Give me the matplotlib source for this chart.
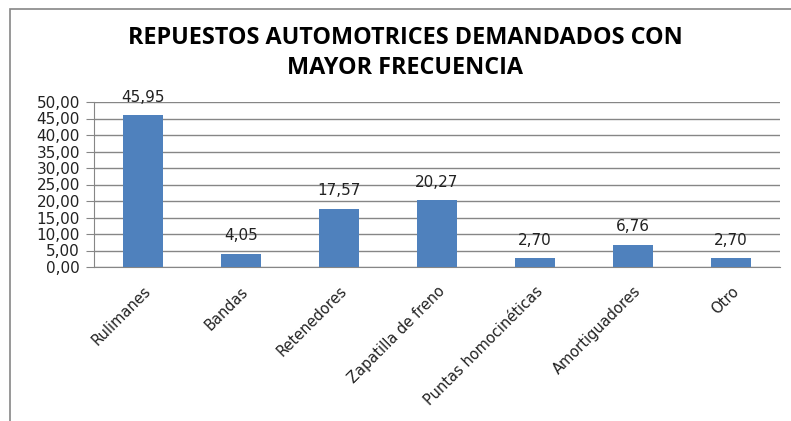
import matplotlib.pyplot as plt
from matplotlib.patches import Rectangle

categorias = ['Rulimanes', 'Bandas', 'Retenedores', 'Zapatilla de freno',
              'Puntas homocinéticas', 'Amortiguadores', 'Otro']
valores = [45.95, 4.05, 17.57, 20.27, 2.70, 6.76, 2.70]
yticks = [0, 5, 10, 15, 20, 25, 30, 35, 40, 45, 50]

plt.rcParams['font.family'] = ['DejaVu Sans']

fig = plt.figure(figsize=(7.91, 4.21), dpi=100)
# chart border (cropped on right and bottom in the original)
fig.patches.append(Rectangle((10 / 791, -0.1), 1.2, 1 - 9 / 421 + 0.1,
                             transform=fig.transFigure, fill=False,
                             edgecolor='#868686', lw=1.2))

ax = fig.add_axes([94 / 791, 1 - 267 / 421, 686 / 791, 165 / 421])
x = range(len(categorias))
ax.bar(x, valores, width=0.4, color='#4F81BD', zorder=3)
for i, v in zip(x, valores):
    ax.text(i, v + 3.2, f'{v:.2f}'.replace('.', ','), ha='center', va='bottom',
            fontsize=11, color='#222222')

ax.set_xlim(-0.5, len(categorias) - 0.5)
ax.set_ylim(0, 50)
ax.set_yticks(yticks)
ax.set_yticklabels([f'{t:.2f}'.replace('.', ',') for t in yticks], fontsize=11,
                   color='#222222')
ax.yaxis.grid(True, color='#868686', lw=1, zorder=0)
ax.set_xticks(list(x))
ax.set_xticklabels(categorias, rotation=45, ha='right', rotation_mode='anchor',
                   fontsize=10.5, color='#222222')
ax.tick_params(axis='x', length=0, pad=12)
ax.tick_params(axis='y', length=6, color='#868686', pad=4)
for s in ['top', 'right']:
    ax.spines[s].set_visible(False)
ax.spines['left'].set_color('#868686')
ax.spines['bottom'].set_color('#868686')

fig.text(405 / 791, 1 - 53 / 421, 'REPUESTOS AUTOMOTRICES DEMANDADOS CON\nMAYOR FRECUENCIA',
         ha='center', va='center', fontsize=16.8, fontweight='bold', linespacing=1.35,
         family=['Open Sans', 'DejaVu Sans'])

fig.savefig('out.png', dpi=100)
